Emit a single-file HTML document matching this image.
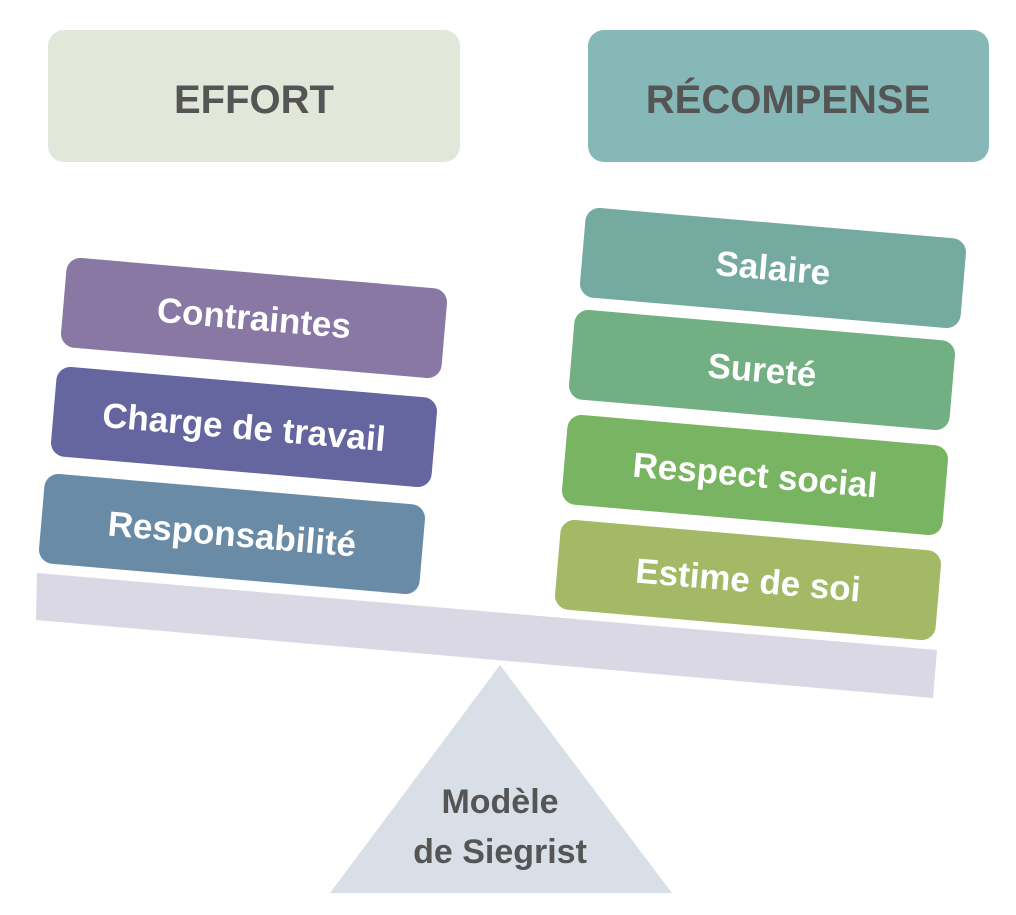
<!DOCTYPE html>
<html><head><meta charset="utf-8"><style>
html,body{margin:0;padding:0;background:#fff;}
svg text{font-family:"Liberation Sans",sans-serif;font-weight:bold;}
</style></head><body>
<svg width="1016" height="910" viewBox="0 0 1016 910" xmlns="http://www.w3.org/2000/svg">
<rect x="48" y="30" width="412" height="132" rx="16" fill="#e2e8d9"/>
<text x="254" y="113" font-size="40" fill="#555" text-anchor="middle">EFFORT</text>
<rect x="588" y="30" width="401" height="132" rx="16" fill="#87b8b8"/>
<text x="788" y="113" font-size="40" fill="#555" text-anchor="middle">RÉCOMPENSE</text>

<polygon points="37,573 937,650 933,698 36,620" fill="#d9d8e4"/>
<polygon points="500,665 672,893 330,893" fill="#d9dfe6"/>
<text x="500" y="813" font-size="34" fill="#555" text-anchor="middle">Modèle</text>
<text x="500" y="863" font-size="34" fill="#555" text-anchor="middle">de Siegrist</text>

<g fill="#fff" font-size="35" text-anchor="middle">
<g transform="translate(254,318) rotate(4.9)"><rect x="-191" y="-45" width="382" height="90" rx="14" fill="#8878a3"/><text y="12">Contraintes</text></g>
<g transform="translate(244,427) rotate(4.9)"><rect x="-191" y="-45" width="382" height="90" rx="14" fill="#6566a0"/><text y="12">Charge de travail</text></g>
<g transform="translate(232,534) rotate(4.9)"><rect x="-191" y="-45" width="382" height="90" rx="14" fill="#6a8ba6"/><text y="12">Responsabilité</text></g>
<g transform="translate(773,268) rotate(4.9)"><rect x="-191" y="-45" width="382" height="90" rx="14" fill="#75aaa1"/><text y="12">Salaire</text></g>
<g transform="translate(762,370) rotate(4.9)"><rect x="-191" y="-45" width="382" height="90" rx="14" fill="#72b083"/><text y="12">Sureté</text></g>
<g transform="translate(755,475) rotate(4.9)"><rect x="-191" y="-45" width="382" height="90" rx="14" fill="#79b462"/><text y="12">Respect social</text></g>
<g transform="translate(748,580) rotate(4.9)"><rect x="-191" y="-45" width="382" height="90" rx="14" fill="#a3b966"/><text y="12">Estime de soi</text></g>
</g>
</svg>
</body></html>
